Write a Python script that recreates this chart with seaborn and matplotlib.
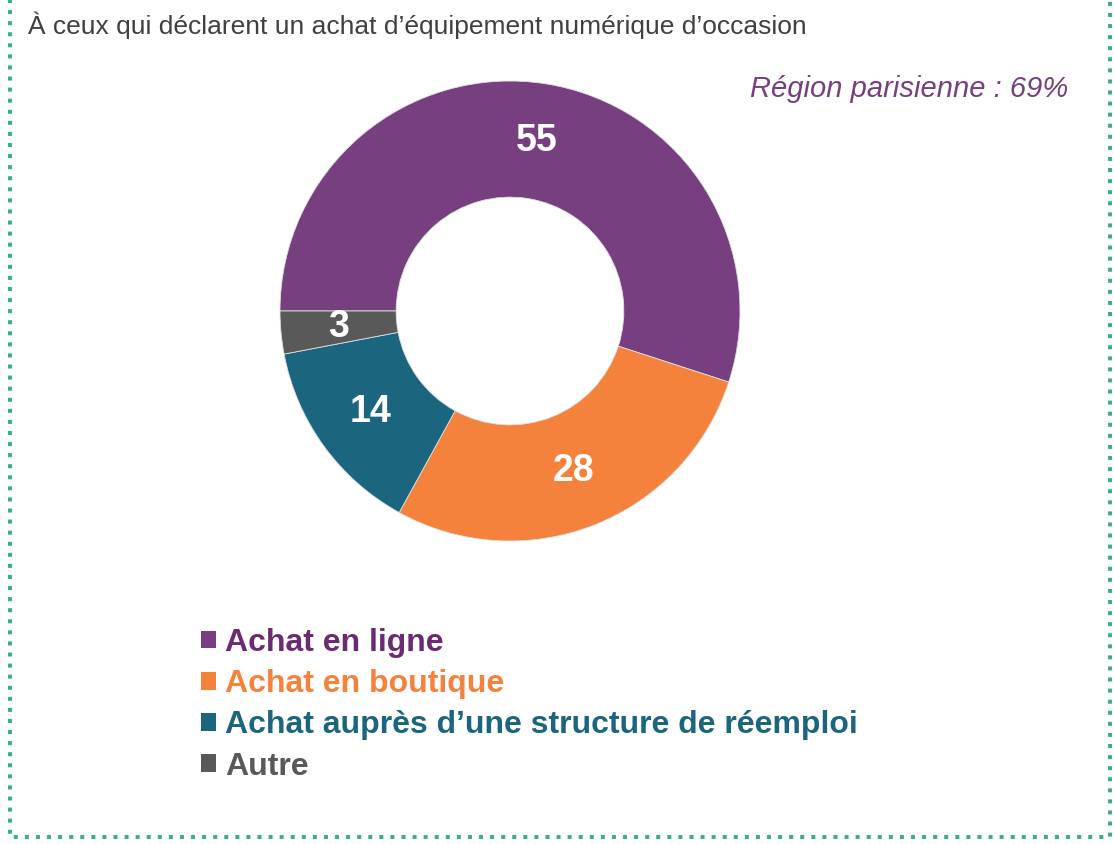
import matplotlib
matplotlib.use("Agg")
import matplotlib.pyplot as plt
import seaborn as sns
from matplotlib.patches import Patch
from matplotlib.lines import Line2D

categories = ["Achat en ligne", "Achat en boutique",
              "Achat auprès d\u2019une structure de réemploi", "Autre"]
values = [55, 28, 14, 3]
wedge_colors = ["#783F80", "#F4813C", "#1B667E", "#595959"]
text_colors = ["#6B2B73", "#F4813C", "#1B667E", "#595959"]
subtitle = "À ceux qui déclarent un achat d\u2019équipement numérique d\u2019occasion"
note = "Région parisienne : 69%"

sns.set_theme(style="white")
plt.rcParams['font.family'] = ['Liberation Sans', 'DejaVu Sans']

W, H = 1114, 844
fig = plt.figure(figsize=(W / 100, H / 100), dpi=100)
fig.patch.set_facecolor("white")

cx, cy, r = 510, 311, 230
ax = fig.add_axes([(cx - r) / W, (H - cy - r) / H, 2 * r / W, 2 * r / H])
wedges, texts, autotexts = ax.pie(
    values, colors=wedge_colors, startangle=180, counterclock=False,
    radius=1, autopct=lambda p: f"{p:.0f}", pctdistance=0.75,
    wedgeprops=dict(width=0.505, edgecolor="#e0e0e0", linewidth=0.6),
    textprops=dict(color="white", fontsize=27, fontweight="bold"))
ax.set_xlim(-1, 1)
ax.set_ylim(-1, 1)
ax.set_aspect("equal")
ax.axis("off")

fig.text(28 / W, 1 - 25 / H, subtitle, fontsize=19, color="#404040",
         ha="left", va="center")
fig.text(1068 / W, 1 - 89 / H, note, fontsize=21, color="#783F80",
         style="italic", ha="right", va="center")

handles = [Patch(facecolor=c, edgecolor="none") for c in wedge_colors]
leg = fig.legend(handles, categories, loc="upper left",
                 bbox_to_anchor=(201 / W, 1 - 628 / H), frameon=False,
                 prop=dict(size=23, weight="bold"),
                 handlelength=0.47, handleheight=0.47, handletextpad=0.28,
                 labelspacing=0.35, borderpad=0, borderaxespad=0,
                 labelcolor=text_colors)

# dotted border
border_col = "#3AAE8E"
pts_x = [10, 10, 1110, 1110, 10]
pts_y = [-5, 837, 837, -5, -5]
fig.add_artist(Line2D([x / W for x in pts_x], [1 - y / H for y in pts_y],
                      transform=fig.transFigure, color=border_col,
                      linewidth=2.9, linestyle=(0, (1, 1.75)),
                      dash_capstyle="butt"))

fig.savefig("out.png", dpi=100, facecolor="white")
